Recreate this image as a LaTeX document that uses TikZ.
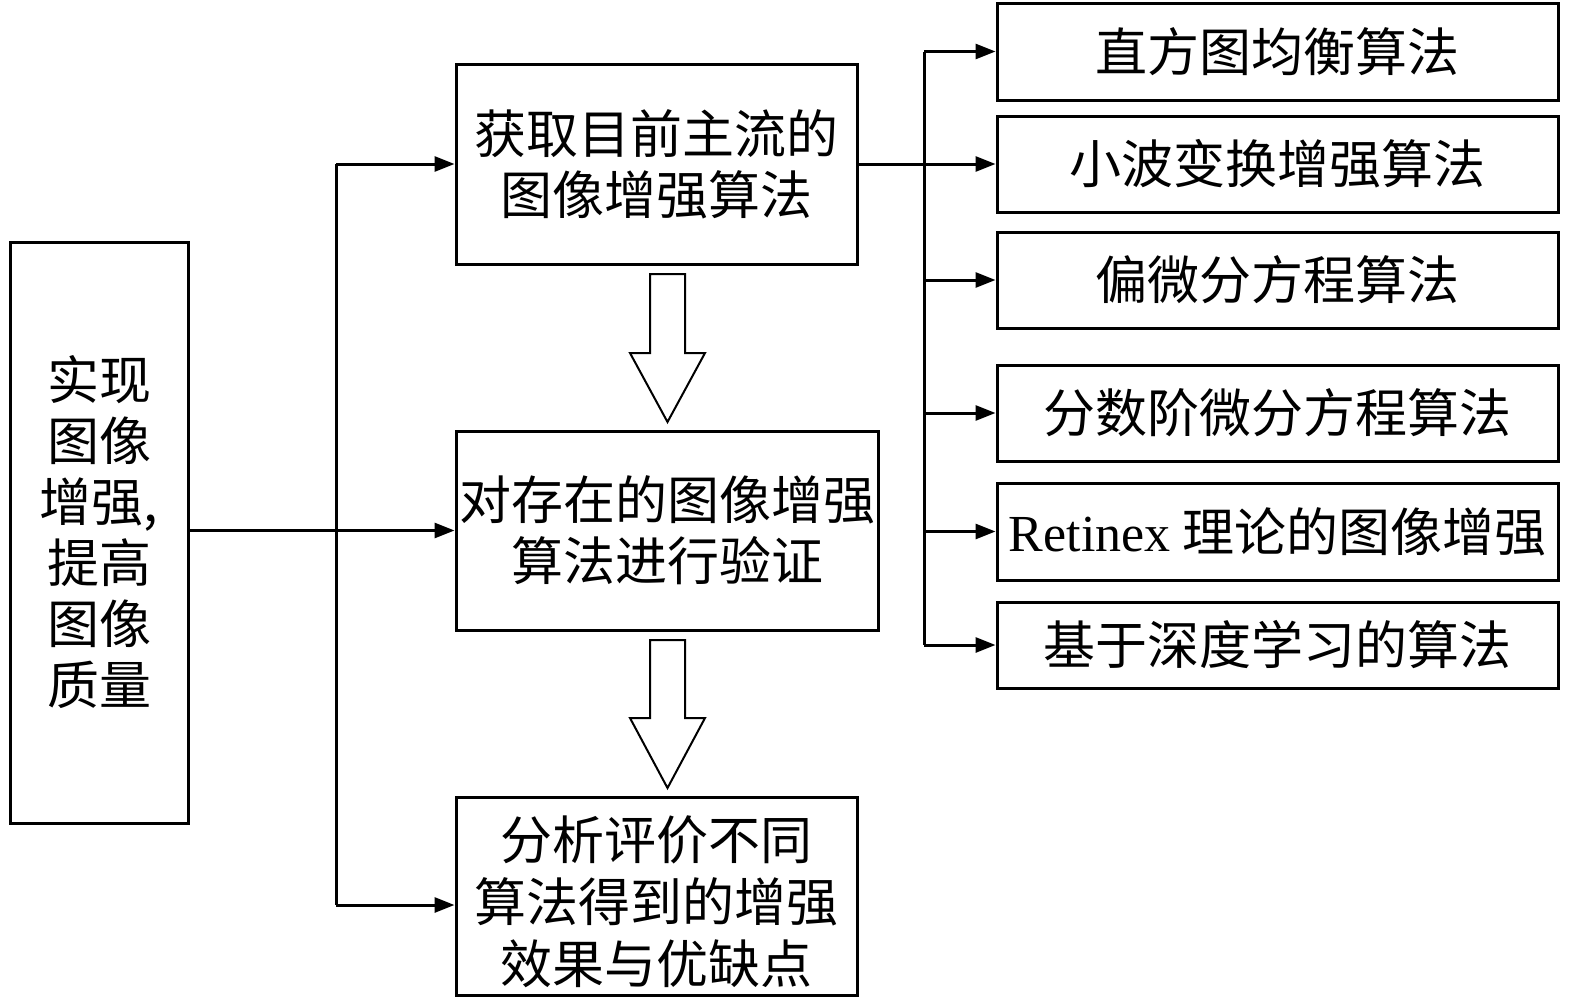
\documentclass[tikz,border=0pt]{standalone}
\usepackage{fontspec}
\setmainfont{Liberation Serif}
\newfontfamily\cjk{Noto Sans CJK SC}
\usetikzlibrary{arrows.meta}
\begin{document}
\begin{tikzpicture}[x=1pt,y=-1pt,
  box/.style={draw,line width=3pt,rectangle,inner sep=0pt,align=center,
    font=\cjk\fontsize{52}{61}\selectfont},
  txt/.style={inner sep=0pt,align=center,font=\cjk\fontsize{52}{62}\selectfont},
  arr/.style={line width=3pt,-{Triangle[length=20pt,width=15pt]}},
  ln/.style={line width=3pt},
  hollow/.style={draw,line width=2pt,fill=white,line join=miter}]
\useasboundingbox (0,0) rectangle (1575,1004);
% boxes
\node[box,minimum width=178pt,minimum height=581pt] (L) at (99,532.5) {实现\\图像\\增强,\\提高\\图像\\质量};
\node[box,minimum width=401pt,minimum height=200pt] (A) at (656.5,164) {获取目前主流的\\图像增强算法};
\node[box,minimum width=422pt,minimum height=199pt] (B) at (667,530.5) {对存在的图像增强\\算法进行验证};
\node[box,minimum width=401pt,minimum height=198pt] (C) at (656.5,896) {};
\node[txt] (Ct) at ([yshift=-6pt]C.center) {分析评价不同\\算法得到的增强\\效果与优缺点};
\node[box,minimum width=561pt,minimum height=97pt] (R1) at (1277.5,51.5) {直方图均衡算法};
\node[box,minimum width=561pt,minimum height=96pt] (R2) at (1277.5,164) {小波变换增强算法};
\node[box,minimum width=561pt,minimum height=96pt] (R3) at (1277.5,280) {偏微分方程算法};
\node[box,minimum width=561pt,minimum height=96pt] (R4) at (1277.5,413) {分数阶微分方程算法};
\node[box,minimum width=561pt,minimum height=97pt] (R5) at (1277.5,531.5) {{\rmfamily Retinex} 理论的图像增强};
\node[box,minimum width=561pt,minimum height=86pt] (R6) at (1277.5,645) {基于深度学习的算法};
% left trunk
\coordinate (lt) at (336,164);
\coordinate (lb) at (336,905);
\draw[ln] (lt) -- (lb);
\draw[arr] (lt) -- (A.west);
\draw[arr] (L.east |- B.west) -- (B.west);
\draw[arr] (lb) -- (lb -| C.west);
% right trunk
\coordinate (rt) at (924,0);
\draw[ln] (rt |- R1.west) -- (rt |- R6.west);
\draw[ln] (A.east) -- (rt |- A.east);
\draw[arr] (rt |- R1.west) -- (R1.west);
\draw[arr] (rt |- R2.west) -- (R2.west);
\draw[arr] (rt |- R3.west) -- (R3.west);
\draw[arr] (rt |- R4.west) -- (R4.west);
\draw[arr] (rt |- R5.west) -- (R5.west);
\draw[arr] (rt |- R6.west) -- (R6.west);
% hollow arrows
\draw[hollow] (650,274) -- (685,274) -- (685,353) -- (705,353) -- (667.5,422) -- (630,353) -- (650,353) -- cycle;
\draw[hollow] (650,640) -- (685,640) -- (685,718) -- (705,718) -- (667.5,788) -- (630,718) -- (650,718) -- cycle;
\end{tikzpicture}
\end{document}
